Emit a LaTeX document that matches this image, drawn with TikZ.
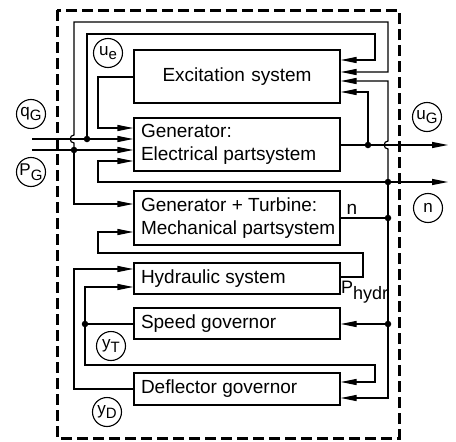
\documentclass[tikz,border=0pt]{standalone}
\usepackage{fontspec}
\setmainfont{Liberation Sans}
\usetikzlibrary{arrows.meta}
\newcommand\cirsub[2]{#1\raisebox{-4.5pt}{\fontsize{15}{15}\selectfont #2}}
\begin{document}
\begin{tikzpicture}[x=1pt,y=-1pt,
  wire/.style={line width=1.2pt},
  arr/.style={wire,-{Triangle[length=16pt,width=6pt]}},
  box/.style={draw,line width=1.2pt,minimum width=206pt,text width=192pt,inner xsep=7pt,inner ysep=0pt,align=flush left,font=\fontsize{19}{23}\selectfont},
  lbl/.style={draw,circle,line width=1.1pt,minimum size=29pt,inner sep=0pt,font=\fontsize{17}{17}\selectfont},
  dot/.style={circle,fill,inner sep=0pt,minimum size=6.5pt},
  border/.style={line width=3pt,dash pattern=on 11pt off 5pt}]
\useasboundingbox (0,0) rectangle (456,442);
\draw[border] (57,10) rectangle (399,438);
% boxes
\node[box,minimum height=53pt,align=center] (exc) at (237,76.5) {Excitation system};
\node[box,minimum height=53pt] (gen) at (237,144.5) {\mbox{Generator:}\\\mbox{Electrical partsystem}};
\node[box,minimum height=54pt] (mech) at (237,218) {\mbox{Generator + Turbine:}\\\mbox{Mechanical partsystem}};
\node[box,minimum height=31pt] (hyd) at (237,278.5) {Hydraulic system};
\node[box,minimum height=31pt] (spd) at (237,323.5) {Speed governor};
\node[box,minimum height=32pt] (dfl) at (237,389) {Deflector governor};
% labels
\node[lbl] (ue) at (108,53) {\cirsub{u}{e}};
\node[lbl] (qG) at (31,114) {\cirsub{q}{G}};
\node[lbl] (PG) at (31,172) {\cirsub{P}{G}};
\node[lbl] (uG) at (427,117) {\cirsub{u}{G}};
\node[lbl] (nl) at (428,208) {n};
\node[lbl] (yT) at (111,346) {\cirsub{y}{T}};
\node[lbl] (yD) at (107,412) {\cirsub{y}{D}};
\node[font=\fontsize{19}{19}\selectfont,inner sep=0pt] (ntxt) at (352,209) {n};
\node[anchor=west,inner sep=0pt,font=\fontsize{18}{18}\selectfont] (ph) at (341,292) {P\raisebox{-6pt}{hydr}};
% coordinates
\coordinate (pgin) at (32,150);
\coordinate (qgin) at (32,139);
\coordinate (jP) at (74,150);
\coordinate (jQ) at (87,139);
\coordinate (jU) at (368,145);
\coordinate (ugout) at (448,145);
\coordinate (jN) at (388,182);
\coordinate (nout) at (448,182);
\coordinate (jM) at (388,218);
\coordinate (jS) at (388,324);
\coordinate (jT) at (85,324);
% inputs
\draw[arr] (pgin) -- (gen.west |- pgin);
\draw[arr] (qgin) -- (gen.west |- qgin);
\draw[arr] (jP) -- (74,143) .. controls (69,143) and (69,135) .. (74,135) -- (74,22) -- (388,22) -- (388,72) -- (exc.east |- 0,72);
\draw[arr] (jP) |- (mech.west |- 0,204);
\draw[arr] (jQ) -- (87,34) -- (375,34) -- (375,60) -- (exc.east |- 0,60);
% excitation output
\draw[arr] (exc.west |- 0,77) -- (98,77) -- (98,128) -- (gen.west |- 0,128);
% generator output
\draw[arr] (gen.east |- ugout) -- (ugout);
\draw[arr] (jU) -- (368,92) -- (exc.east |- 0,92);
% speed bus
\draw[wire] (mech.east |- jM) -- (jM);
\draw[arr] (jN) -- (388,149) .. controls (383,149) and (383,141) .. (388,141) -- (388,81) -- (exc.east |- 0,81);
\draw[arr] (jN) -- (388,398) -- (dfl.east |- 0,398);
\draw[arr] (jS) -- (spd.east |- jS);
\draw[arr] (jN) -- (nout);
\draw[arr] (jN) -- (98,182) -- (98,161) -- (gen.west |- 0,161);
% hydraulic
\draw[arr] (hyd.east |- 0,277) -- (363,277) -- (363,253) -- (98,253) -- (98,232) -- (mech.west |- 0,232);
\draw[arr] (dfl.west |- 0,389) -- (74,389) -- (74,269) -- (hyd.west |- 0,269);
\draw[wire] (spd.west |- jT) -- (jT);
\draw[arr] (jT) -- (85,287) -- (hyd.west |- 0,287);
\draw[arr] (jT) -- (85,365) -- (375,365) -- (375,382) -- (dfl.east |- 0,382);
% dots
\foreach \p in {jP,jQ,jU,jN,jM,jS,jT} \node[dot] at (\p) {};
\end{tikzpicture}
\end{document}
